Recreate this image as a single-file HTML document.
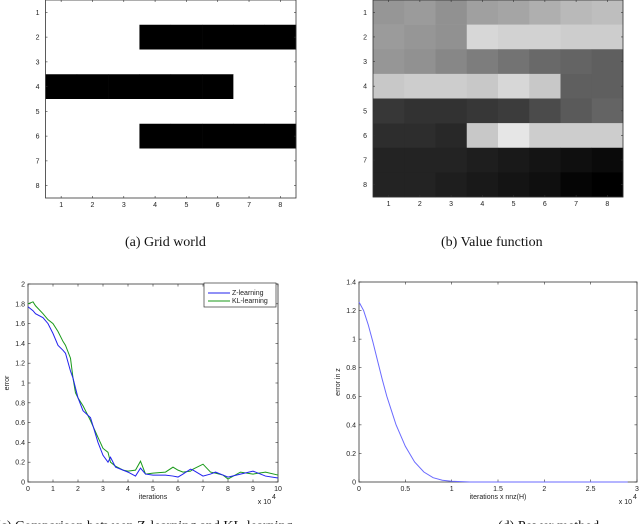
<!DOCTYPE html>
<html><head><meta charset="utf-8"><style>
body{margin:0;background:#fff;width:640px;height:524px;overflow:hidden}
svg{display:block}
.t{font-family:"Liberation Sans",sans-serif;font-size:7px;fill:#222}
.cap{font-family:"Liberation Serif",serif;font-size:14px;fill:#111}
</style></head><body>
<svg id="s" width="640" height="524" viewBox="0 0 640 524">
<text class="cap" x="125" y="246">(a)  Grid world</text>
<text class="cap" x="441" y="246">(b)  Value function</text>
<text class="cap" x="-4" y="530">(c)  Comparison between Z-learning and KL-learning</text>
<text class="cap" x="498" y="530">(d)  Power method</text>
</svg>
<script>
const gridWalls=[[0,0,0,0,0,0,0,0],[0,0,0,1,1,1,1,1],[0,0,0,0,0,0,0,0],[1,1,1,1,1,1,0,0],[0,0,0,0,0,0,0,0],[0,0,0,1,1,1,1,1],[0,0,0,0,0,0,0,0],[0,0,0,0,0,0,0,0]];
const valueGray=[[150,155,145,160,165,175,185,190],[155,150,145,215,210,210,205,205],[150,145,135,125,115,105,100,95],[200,205,205,200,215,200,95,95],[55,50,50,55,60,75,90,100],[45,45,40,200,230,205,205,205],[35,35,35,30,25,20,15,10],[35,35,30,25,20,15,5,0]];
const gridTicks=[1,2,3,4,5,6,7,8];
const iterX=[0,0.2,0.3,0.6,0.8,1,1.2,1.4,1.5,1.7,1.8,1.9,2,2.2,2.5,2.8,3,3.2,3.3,3.5,3.8,4,4.3,4.5,4.7,5,5.5,5.8,6,6.2,6.5,6.6,7,7.3,7.5,7.8,8,8.5,9,9.5,10];
const zErr=[1.77,1.73,1.7,1.66,1.6,1.5,1.38,1.33,1.3,1.12,1.05,0.95,0.85,0.72,0.65,0.4,0.27,0.2,0.25,0.15,0.12,0.1,0.06,0.14,0.08,0.07,0.07,0.06,0.05,0.08,0.13,0.12,0.06,0.08,0.1,0.07,0.05,0.08,0.11,0.06,0.04];
const klErr=[1.8,1.82,1.78,1.7,1.64,1.6,1.52,1.42,1.38,1.25,1.05,0.9,0.85,0.77,0.62,0.45,0.34,0.3,0.2,0.16,0.12,0.11,0.12,0.21,0.08,0.09,0.1,0.15,0.12,0.1,0.11,0.13,0.18,0.1,0.09,0.07,0.03,0.1,0.08,0.1,0.07];
const leftYTicks=[0,0.2,0.4,0.6,0.8,1,1.2,1.4,1.6,1.8,2];
const leftXTicks=[0,1,2,3,4,5,6,7,8,9,10];
const powX=[0,0.05,0.1,0.15,0.2,0.25,0.3,0.35,0.4,0.5,0.6,0.7,0.8,0.9,1,1.2,2,2.9];
const powErr=[1.26,1.2,1.1,0.98,0.85,0.72,0.6,0.5,0.4,0.25,0.14,0.07,0.03,0.012,0.005,0,0,0];
const rightYTicks=[0,0.2,0.4,0.6,0.8,1,1.2,1.4];
const rightXTicks=[0,0.5,1,1.5,2,2.5,3];

const s=document.getElementById('s');
const NS='http://www.w3.org/2000/svg';
function mk(tag,at,parent){const e=document.createElementNS(NS,tag);for(const k in at)e.setAttribute(k,at[k]);(parent||s).appendChild(e);return e;}
function txt(x,y,str,anchor){const e=mk('text',{x:x,y:y,'class':'t','text-anchor':anchor||'middle'});e.textContent=str;return e;}

function gridPanel(x0,y0,w,h,fillFn,name){
  const g=mk('g',{});
  
  
  const cw=w/8,ch=h/8;
  for(let r=0;r<8;r++)for(let c=0;c<8;c++){
    const rc=mk('rect',{x:x0+c*cw,y:y0+r*ch,width:cw+0.3,height:ch+0.3,fill:fillFn(r,c)},g);
    
    
  }
  mk('rect',{x:x0,y:y0,width:w,height:h,fill:'none',stroke:'#333','stroke-width':0.8},g);
  gridTicks.forEach((t,i)=>{
    const xx=x0+(i+0.5)*cw,yy=y0+(i+0.5)*ch;
    mk('line',{x1:xx,y1:y0+h,x2:xx,y2:y0+h-2,stroke:'#333','stroke-width':0.6},g);
    mk('line',{x1:xx,y1:y0,x2:xx,y2:y0+2,stroke:'#333','stroke-width':0.6},g);
    mk('line',{x1:x0,y1:yy,x2:x0+2,y2:yy,stroke:'#333','stroke-width':0.6},g);
    mk('line',{x1:x0+w,y1:yy,x2:x0+w-2,y2:yy,stroke:'#333','stroke-width':0.6},g);
    txt(xx,y0+h+9,String(t));
    txt(x0-6,yy+2.5,String(t),'end');
  });
}
gridPanel(45.5,0,250.5,198,(r,c)=>gridWalls[r][c]?'#000':'#fff','grid-world-chart');
gridPanel(373,0,250,197,(r,c)=>{const v=valueGray[r][c];return `rgb(${v},${v},${v})`;},'value-function-heatmap');

function linePanel(x0,y0,w,h,xmax,ymax,xt,yt,name,xlab,ylab){
  const g=mk('g',{});
  
  
  const sx=v=>x0+v/xmax*w, sy=v=>y0+h-v/ymax*h;
  mk('rect',{x:x0,y:y0,width:w,height:h,fill:'#fff',stroke:'#333','stroke-width':0.8},g);
  xt.forEach(t=>{const xx=sx(t);
    mk('line',{x1:xx,y1:y0+h,x2:xx,y2:y0+h-2.5,stroke:'#333','stroke-width':0.6},g);
    mk('line',{x1:xx,y1:y0,x2:xx,y2:y0+2.5,stroke:'#333','stroke-width':0.6},g);
    txt(xx,y0+h+9,String(t));});
  yt.forEach(t=>{const yy=sy(t);
    mk('line',{x1:x0,y1:yy,x2:x0+2.5,y2:yy,stroke:'#333','stroke-width':0.6},g);
    mk('line',{x1:x0+w,y1:yy,x2:x0+w-2.5,y2:yy,stroke:'#333','stroke-width':0.6},g);
    txt(x0-3,yy+2.5,String(t),'end');});
  txt(x0+w/2,y0+h+17,xlab);
  const yl=txt(x0-19,y0+h/2,ylab);yl.setAttribute('transform',`rotate(-90 ${x0-19} ${y0+h/2})`);
  return {g,sx,sy};
}
function path(p,xs,ys,color,name){
  let d='';xs.forEach((x,i)=>{d+=(i?'L':'M')+p.sx(x).toFixed(2)+','+p.sy(ys[i]).toFixed(2);});
  const e=mk('path',{d:d,fill:'none',stroke:color,'stroke-width':1},p.g);
  
  
}
const L=linePanel(28,284,250,198,10,2,leftXTicks,leftYTicks,'learning-comparison-chart','iterations','error');
path(L,iterX,klErr,'#1a9a1a','kl-learning-line');
path(L,iterX,zErr,'#2222ee','z-learning-line');
txt(271,504,'x 10','end');txt(272,499,'4','start');
const lg=mk('g',{},L.g);


mk('rect',{x:204,y:283,width:72,height:24,fill:'#fff',stroke:'#333','stroke-width':0.7},lg);
mk('line',{x1:208,y1:293,x2:230,y2:293,stroke:'#2222ee'},lg);
mk('line',{x1:208,y1:301,x2:230,y2:301,stroke:'#1a9a1a'},lg);
txt(232,295,'Z-learning','start');txt(232,303,'KL-learning','start');

const R=linePanel(359,282,278,200,3,1.4,rightXTicks,rightYTicks,'power-method-chart','iterations x nnz(H)','error in z');
path(R,powX,powErr,'#6a6aff','power-method-line');
txt(632,504,'x 10','end');txt(633,499,'4','start');
</script>
</body></html>
